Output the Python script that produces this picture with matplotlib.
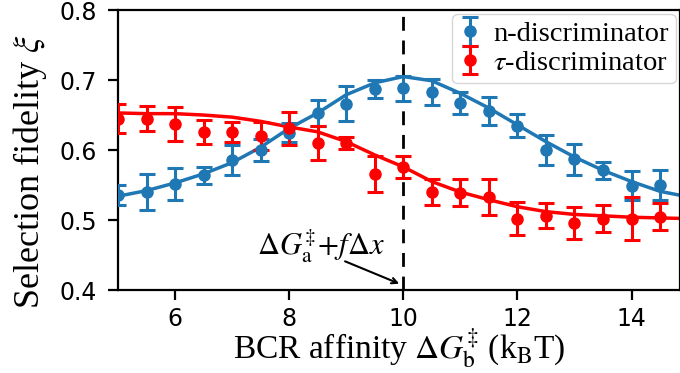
import matplotlib
matplotlib.use("Agg")
import matplotlib.pyplot as plt
import numpy as np

# measured points (x = BCR affinity, kBT)
x_pts = [5.0, 5.5, 6.0, 6.5, 7.0, 7.5, 8.0, 8.5, 9.0, 9.5,
         10.0, 10.5, 11.0, 11.5, 12.0, 12.5, 13.0, 13.5, 14.0, 14.5, 15.0]

n_vals = [0.536, 0.540, 0.551, 0.564, 0.586, 0.600, 0.625, 0.653, 0.666, 0.687,
          0.688, 0.683, 0.667, 0.656, 0.635, 0.600, 0.587, 0.571, 0.549, 0.550, 0.530]
n_errs = [0.014, 0.026, 0.023, 0.012, 0.021, 0.016, 0.014, 0.018, 0.025, 0.013,
          0.018, 0.019, 0.016, 0.020, 0.016, 0.022, 0.022, 0.012, 0.021, 0.021, 0.020]

tau_vals = [0.645, 0.645, 0.637, 0.626, 0.626, 0.620, 0.631, 0.610, 0.610, 0.566,
            0.576, 0.540, 0.539, 0.533, 0.502, 0.506, 0.496, 0.502, 0.502, 0.505, 0.500]
tau_errs = [0.021, 0.018, 0.024, 0.017, 0.014, 0.020, 0.024, 0.024, 0.009, 0.026,
            0.016, 0.018, 0.019, 0.026, 0.024, 0.018, 0.023, 0.019, 0.031, 0.019, 0.020]

# fitted curves
x_fit = [5.0, 5.5, 6.0, 6.5, 7.0, 7.5, 8.0, 8.5, 9.0, 9.5,
         10.0, 10.5, 11.0, 11.5, 12.0, 12.5, 13.0, 13.5, 14.0, 14.5, 15.0]
n_fit = [0.534, 0.542, 0.553, 0.566, 0.582, 0.604, 0.631, 0.653, 0.679, 0.696,
         0.705, 0.699, 0.681, 0.660, 0.636, 0.612, 0.590, 0.571, 0.555, 0.541, 0.533]
tau_fit = [0.653, 0.652, 0.652, 0.650, 0.647, 0.641, 0.633, 0.626, 0.612, 0.593,
           0.576, 0.555, 0.540, 0.529, 0.519, 0.512, 0.508, 0.506, 0.504, 0.503, 0.502]

plt.rcParams['mathtext.fontset'] = 'stix'

fig = plt.figure(figsize=(6.8, 3.73), dpi=100)
ax = fig.add_axes([0.1735, 0.2225, 0.8265, 0.7505])

blue = '#1f77b4'
red = '#ff0000'

ax.plot(x_fit, n_fit, color=blue, lw=2.5, zorder=2)
ax.plot(x_fit, tau_fit, color=red, lw=2.5, zorder=2)
ax.errorbar(x_pts, n_vals, yerr=n_errs, fmt='o', color=blue, ms=8,
            capsize=6, elinewidth=2.2, capthick=2.2, label='n-discriminator', zorder=3)
ax.errorbar(x_pts, tau_vals, yerr=tau_errs, fmt='o', color=red, ms=8,
            capsize=6, elinewidth=2.2, capthick=2.2, label=r'$\tau$-discriminator', zorder=3)

ax.axvline(10, color='black', lw=2, ls=(0, (5, 3.5)), zorder=1)

# label + arrow pointing at the dashed line
ax.text(7.44, 0.451, r'$\Delta G_\mathrm{a}^{\ddagger}\!+\!f\Delta x$', fontsize=22,
        ha='left', va='baseline')
ax.annotate('', xy=(9.93, 0.409), xytext=(8.98, 0.441),
            arrowprops=dict(arrowstyle='->', color='black', lw=1.5,
                            shrinkA=0, shrinkB=0))

ax.set_xlim(5, 14.85)
ax.set_ylim(0.4, 0.8)
ax.set_xticks([6, 8, 10, 12, 14])
ax.set_yticks([0.4, 0.5, 0.6, 0.7, 0.8])
ax.tick_params(labelsize=17, length=7, width=1.6)
ax.tick_params(axis='x', pad=5)
ax.tick_params(axis='y', pad=8)
for s in ax.spines.values():
    s.set_linewidth(1.6)

ax.set_xlabel(r'BCR affinity $\Delta G_\mathrm{b}^{\ddagger}$ (k$_\mathrm{B}$T)',
              family='Liberation Serif', fontsize=24, labelpad=-3)
ax.set_ylabel(r'Selection fidelity $\xi$', family='Liberation Serif', fontsize=26)
ax.yaxis.set_label_coords(-0.122, 0.425)

leg = ax.legend(loc='upper right', prop={'family': 'Liberation Serif', 'size': 20.5},
                handlelength=0.8, handletextpad=0.4, borderpad=0.25,
                labelspacing=0.1, borderaxespad=0.15, fancybox=True, framealpha=0.8)

fig.savefig('out.png', dpi=100)
